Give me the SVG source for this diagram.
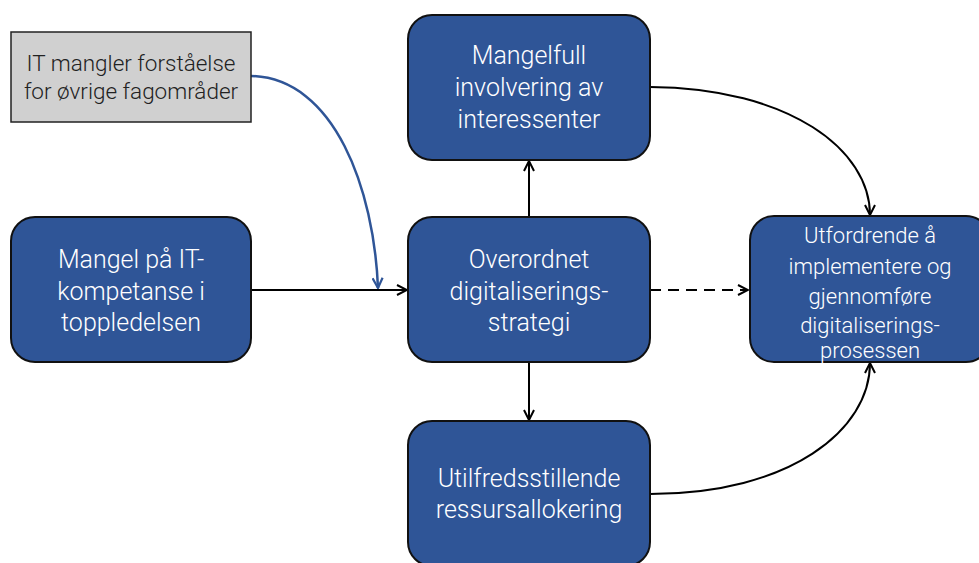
<svg xmlns="http://www.w3.org/2000/svg" width="979" height="563" viewBox="0 0 979 563">
  <style>
    .box { fill: #2f5597; stroke: #111; stroke-width: 2; }
    .gray { fill: #d0d0d0; stroke: #222; stroke-width: 1.5; }
    .lbl { font-family: Roboto, "Liberation Sans", sans-serif; font-weight: 300; font-size: 25px; fill: #ffffff; text-anchor: middle; }
    .lbl-s { font-size: 22px; }
    .lbl-g { font-size: 22.5px; }
    .dark { fill: #222; }
    .edge { fill: none; stroke: #000; stroke-width: 2; }
    .blue { stroke: #2f5597; stroke-width: 2.5; }
    .dash { stroke-dasharray: 11 7; }
  </style>
  <defs>
    <marker id="arrow" viewBox="0 0 12 12" refX="11" refY="6" markerWidth="12" markerHeight="12" markerUnits="userSpaceOnUse" orient="auto">
      <path d="M1,1 L11,6 L1,11" fill="none" stroke="#000" stroke-width="2"/>
    </marker>
    <marker id="arrow-blue" viewBox="0 0 12 12" refX="11" refY="6" markerWidth="12" markerHeight="12" markerUnits="userSpaceOnUse" orient="auto">
      <path d="M1,1 L11,6 L1,11" fill="none" stroke="#2f5597" stroke-width="2.2"/>
    </marker>
  </defs>

  <g id="connectors">
    <path class="edge" d="M251,290 L407,290" marker-end="url(#arrow)"/>
    <path class="edge blue" d="M251,76 C335,78 374,190 378,288" marker-end="url(#arrow-blue)"/>
    <path class="edge" d="M529,216 L529,161" marker-end="url(#arrow)"/>
    <path class="edge" d="M529,362 L529,420" marker-end="url(#arrow)"/>
    <path class="edge dash" d="M650,290 L748,290" marker-end="url(#arrow)"/>
    <path class="edge" d="M650,87 C790,88 870,150 870,215" marker-end="url(#arrow)"/>
    <path class="edge" d="M650,494 C790,494 870,430 870,363" marker-end="url(#arrow)"/>
  </g>

  <g id="it-forstaelse">
    <rect class="gray" x="11" y="32" width="240" height="90"/>
    <text class="lbl lbl-g dark" x="131" y="71">IT mangler forståelse</text>
    <text class="lbl lbl-g dark" x="131" y="99">for øvrige fagområder</text>
  </g>

  <g id="it-kompetanse">
    <rect class="box" x="11" y="217" width="240" height="145" rx="24"/>
    <text class="lbl" x="131" y="268">Mangel på IT-</text>
    <text class="lbl" x="131" y="300">kompetanse i</text>
    <text class="lbl" x="131" y="331">toppledelsen</text>
  </g>

  <g id="involvering">
    <rect class="box" x="408" y="15" width="242" height="145" rx="24"/>
    <text class="lbl" x="529" y="64">Mangelfull</text>
    <text class="lbl" x="529" y="96">involvering av</text>
    <text class="lbl" x="529" y="128">interessenter</text>
  </g>

  <g id="strategi">
    <rect class="box" x="408" y="217" width="242" height="145" rx="24"/>
    <text class="lbl" x="529" y="268">Overordnet</text>
    <text class="lbl" x="529" y="300">digitaliserings-</text>
    <text class="lbl" x="529" y="331">strategi</text>
  </g>

  <g id="ressurser">
    <rect class="box" x="408" y="421" width="242" height="145" rx="24"/>
    <text class="lbl" x="529" y="487">Utilfredsstillende</text>
    <text class="lbl" x="529" y="518">ressursallokering</text>
  </g>

  <g id="gjennomforing">
    <rect class="box" x="750" y="216" width="240" height="146" rx="24"/>
    <text class="lbl lbl-s" x="870" y="243">Utfordrende å</text>
    <text class="lbl lbl-s" x="870" y="274">implementere og</text>
    <text class="lbl lbl-s" x="870" y="304">gjennomføre</text>
    <text class="lbl lbl-s" x="870" y="333">digitaliserings-</text>
    <text class="lbl lbl-s" x="870" y="358">prosessen</text>
  </g>
</svg>
